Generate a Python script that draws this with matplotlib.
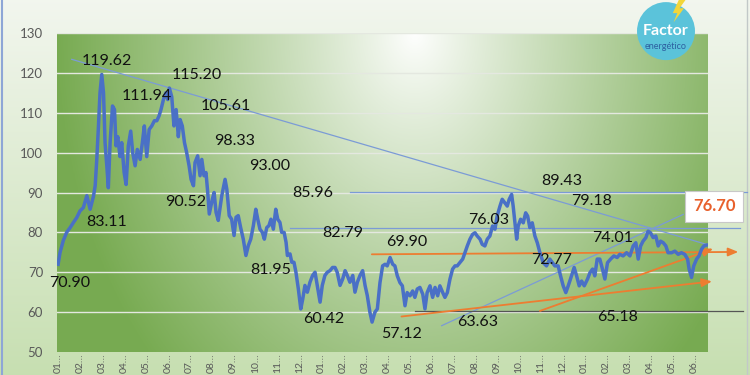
import numpy as np
import matplotlib.pyplot as plt
from matplotlib.patches import Ellipse, Polygon
from matplotlib.lines import Line2D

plt.rcParams['font.family'] = ['Lato', 'DejaVu Sans']

# price: position in months from the first tick, value
month_pos = [0.00, 0.09, 0.24, 0.39, 0.55, 0.70, 0.85, 1.00, 1.15, 1.31, 1.46, 1.61, 1.69, 1.76,
             1.84, 1.91, 1.99, 2.07, 2.14, 2.22, 2.29, 2.37, 2.48, 2.57, 2.64, 2.72, 2.82, 2.90,
             3.01, 3.10, 3.20, 3.31, 3.40, 3.51, 3.61, 3.74, 3.84, 3.93, 4.04, 4.15, 4.27, 4.39,
             4.50, 4.60, 4.69, 4.80, 4.91, 5.00, 5.07, 5.18, 5.28, 5.38, 5.48, 5.56, 5.66, 5.76,
             5.86, 5.97, 6.06, 6.17, 6.24, 6.36, 6.47, 6.55, 6.65, 6.74, 6.82, 6.89, 7.03, 7.11,
             7.20, 7.30, 7.46, 7.61, 7.69, 7.80, 7.91, 8.02, 8.11, 8.21, 8.32, 8.44, 8.56, 8.67,
             8.78, 8.90, 9.01, 9.10, 9.20, 9.31, 9.40, 9.51, 9.61, 9.70, 9.81, 9.92, 10.01, 10.11,
             10.19, 10.30, 10.39, 10.45, 10.57, 10.65, 10.75, 10.84, 10.95, 11.06, 11.15, 11.25,
             11.36, 11.48, 11.60, 11.71, 11.81, 11.94, 12.04, 12.16, 12.27, 12.39, 12.51, 12.62,
             12.72, 12.85, 12.97, 13.08, 13.18, 13.30, 13.43, 13.53, 13.64, 13.76, 13.88, 13.99,
             14.09, 14.21, 14.31, 14.44, 14.55, 14.67, 14.79, 14.90, 15.00, 15.13, 15.25, 15.35,
             15.46, 15.58, 15.69, 15.81, 15.91, 16.04, 16.16, 16.26, 16.37, 16.49, 16.62, 16.72,
             16.82, 16.95, 17.07, 17.18, 17.30, 17.40, 17.53, 17.63, 17.74, 17.86, 17.98, 18.09,
             18.19, 18.31, 18.44, 18.54, 18.65, 18.77, 18.89, 19.00, 19.10, 19.23, 19.33, 19.45,
             19.56, 19.68, 19.80, 19.91, 20.01, 20.14, 20.24, 20.36, 20.47, 20.56, 20.67, 20.74,
             20.82, 20.90, 20.97, 21.08, 21.20, 21.31, 21.40, 21.50, 21.61, 21.73, 21.84, 21.96,
             22.11, 22.26, 22.41, 22.64, 22.79, 22.90, 23.02, 23.14, 23.25, 23.40, 23.52, 23.63,
             23.75, 23.86, 23.98, 24.13, 24.24, 24.36, 24.46, 24.57, 24.69, 24.81, 24.92, 25.04,
             25.18, 25.33, 25.48, 25.60, 25.75, 25.91, 26.06, 26.21, 26.33, 26.44, 26.55, 26.66,
             26.79, 26.89, 27.00, 27.12, 27.24, 27.35, 27.46, 27.58, 27.70, 27.80, 27.96, 28.11,
             28.26, 28.41, 28.56, 28.69, 28.76, 28.87, 28.97, 29.10, 29.21, 29.33, 29.43, 29.55]
price = [72.0, 75.0, 78.0, 80.0, 81.2, 82.5, 83.7, 85.4, 86.2, 89.2, 85.8, 89.0, 91.7, 98.0,
         106.7, 115.0, 119.6, 115.0, 102.5, 96.7, 91.2, 102.5, 111.7, 110.8, 101.7, 104.0, 99.0, 102.5,
         95.0, 92.0, 101.7, 105.4, 100.0, 96.7, 100.8, 98.3, 102.5, 106.7, 99.0, 105.8, 106.7, 108.0,
         108.0, 109.2, 110.8, 113.3, 115.0, 113.3, 116.2, 114.0, 106.7, 110.8, 104.0, 108.3, 106.7, 102.5,
         100.0, 96.7, 93.3, 91.7, 97.5, 99.2, 94.2, 98.3, 94.2, 95.0, 90.0, 84.6, 88.3, 90.0,
         85.0, 83.0, 89.2, 93.3, 90.8, 84.2, 83.3, 79.2, 83.8, 84.2, 81.2, 78.3, 74.2, 76.7,
         78.3, 81.7, 85.8, 83.3, 80.8, 80.0, 78.3, 81.2, 81.7, 83.3, 80.8, 85.8, 83.3, 82.5,
         80.0, 80.0, 77.5, 74.2, 74.6, 72.5, 72.5, 70.0, 65.8, 60.8, 63.3, 66.7,
         65.0, 67.5, 69.2, 70.0, 66.7, 62.5, 66.7, 69.2, 70.0, 70.4, 71.2, 71.2,
         70.0, 66.7, 68.3, 70.4, 69.2, 67.5, 69.2, 65.0, 67.5, 69.2, 70.4, 66.7,
         64.2, 60.0, 57.5, 60.0, 60.8, 67.4, 71.6, 72.0, 71.6, 73.7, 72.0, 71.6,
         69.1, 67.4, 66.6, 61.6, 64.9, 64.1, 65.3, 63.7, 65.8, 66.2, 64.5, 60.8,
         64.9, 66.6, 63.7, 66.2, 64.1, 66.6, 64.9, 63.7, 64.9, 68.3, 70.8, 71.6,
         71.6, 72.4, 73.3, 74.9, 76.6, 78.3, 79.5, 79.9, 79.1, 78.3, 77.0, 76.6,
         78.3, 79.1, 81.6, 80.8, 84.1, 86.6, 88.3, 87.4, 86.6, 88.3, 89.5, 86.6,
         82.4, 78.3, 81.6, 83.3, 82.4, 84.9, 84.1, 81.2, 82.4, 79.1, 77.4, 74.9,
         72.4, 71.6, 73.3, 71.6, 71.6, 69.1, 66.6, 64.9, 66.6, 69.1, 71.2, 69.1,
         66.6, 67.8, 66.6, 68.3, 69.9, 70.8, 69.1, 73.3, 73.3, 70.8, 68.3, 72.4,
         73.3, 74.1, 73.7, 74.5, 74.1, 74.9, 74.1, 76.6, 77.4, 73.3, 76.6, 77.8,
         78.7, 80.3, 79.9, 78.7, 79.1, 76.6, 77.8, 77.4, 76.6, 74.9, 74.9, 75.3,
         74.5, 74.9, 74.5, 73.3, 70.8, 68.7, 71.6, 73.3, 74.1, 75.8, 76.6, 76.8]

tick_months = ['01', '02', '03', '04', '05', '06', '07', '08', '09', '10', '11', '12',
               '01', '02', '03', '04', '05', '06', '07', '08', '09', '10', '11', '12',
               '01', '02', '03', '04', '05', '06']

peak_labels = ['119.62', '115.20', '111.94', '105.61', '98.33', '93.00', '85.96', '82.79',
               '90.52', '83.11', '70.90', '81.95', '60.42', '57.12', '63.63', '69.90',
               '76.03', '72.77', '74.01', '65.18', '79.18', '89.43']
peak_pos = [(2.23, 123.0), (6.33, 119.4), (4.05, 114.1), (7.65, 111.75), (8.06, 103.0),
            (9.66, 96.6), (11.62, 90.0), (12.98, 79.9), (5.83, 87.5), (2.23, 82.5),
            (0.55, 67.4), (9.70, 70.5), (12.12, 58.25), (15.67, 54.4), (19.13, 57.6),
            (15.90, 77.5), (19.64, 83.0), (22.50, 73.0), (25.28, 78.5), (25.51, 58.75),
            (24.33, 87.9), (22.96, 93.0)]
last_price = '76.70'

# trend lines drawn on the chart (month, price) -> (month, price)
blue_trends = [((0.62, 123.4), (29.55, 77.0)),
               ((17.48, 56.6), (28.49, 84.5)),
               ((13.30, 90.1), (31.40, 90.1)),
               ((10.57, 81.2), (31.10, 81.2))]
orange_trends = [((14.30, 74.5), (31.00, 75.1)),
                 ((15.65, 58.9), (29.80, 67.7)),
                 ((21.96, 60.3), (29.85, 75.9))]
support = ((16.26, 60.2), (31.20, 60.2))

fig = plt.figure(figsize=(7.5, 3.75), dpi=100)

# figure background: pale at the top, light green at the bottom
bg = fig.add_axes([0, 0, 1, 1])
bg.set_zorder(0)
top_c = np.array([0.95, 0.965, 0.935])
bot_c = np.array([0.78, 0.875, 0.695])
s = np.linspace(0, 1, 200)[:, None]
bg_img = bot_c * (1 - s[..., None]) + top_c * s[..., None]
bg_img = np.repeat(bg_img, 4, axis=1)
bg.imshow(bg_img, origin='lower', extent=[0, 1, 0, 1], aspect='auto')
bg.set_xlim(0, 1)
bg.set_ylim(0, 1)
bg.axis('off')
bg.add_line(Line2D([0.003, 0.003], [0, 1], color='#8ea6d6', lw=1.5))
bg.add_line(Line2D([0.996, 0.996], [0, 1], color='#c2c8c8', lw=1))

ax = fig.add_axes([0.076, 0.0613, 0.868, 0.8507])
ax.set_zorder(1)
ax.patch.set_visible(False)
x0, x1 = -0.05, 29.62
ax.set_xlim(x0, x1)
ax.set_ylim(50, 130)

# plot area gradient: white near the top centre, green toward the corners
nx, ny = 400, 200
X, Y = np.meshgrid(np.linspace(0, 1, nx), np.linspace(0, 1, ny))
d = np.clip(np.sqrt(((X - 0.55) / 0.55) ** 2 + ((Y - 1.0) / 1.5) ** 2), 0, 1) ** 0.9
white = np.array([1.0, 1.0, 1.0])
green = np.array([0.47, 0.67, 0.32])
img = white * (1 - d[..., None]) + green * d[..., None]
ax.imshow(img, origin='lower', extent=[x0, x1, 50, 130], aspect='auto', zorder=0)

for v in range(60, 131, 10):
    ax.axhline(v, color='#e4e8e0', lw=1, zorder=1)

for spine in ax.spines.values():
    spine.set_visible(False)

ax.set_yticks(range(50, 131, 10))
ax.tick_params(axis='y', length=0, pad=10, labelsize=9.5, labelcolor='#595959')
ax.set_xticks(range(len(tick_months)))
ax.set_xticklabels([m + '…' for m in tick_months], rotation=90)
ax.tick_params(axis='x', length=0, pad=1, labelsize=7.5, labelcolor='#595959')

# trend lines
for (a, b) in blue_trends:
    ax.plot([a[0], b[0]], [a[1], b[1]], color='#7b9bd6', lw=0.9, zorder=3, clip_on=False)
ax.plot([support[0][0], support[1][0]], [support[0][1], support[1][1]],
        color='#555555', lw=0.9, zorder=3, clip_on=False)
for (a, b) in orange_trends:
    ax.annotate('', xy=b, xytext=a, annotation_clip=False, zorder=4,
                arrowprops=dict(arrowstyle='-|>,head_length=0.6,head_width=0.25',
                                color='#ed7d31', lw=1.3, shrinkA=0, shrinkB=0))

ax.plot(month_pos, price, color='#4a70c6', lw=2.5, zorder=5, solid_joinstyle='round')

for txt, (px, py) in zip(peak_labels, peak_pos):
    ax.text(px, py, txt, ha='center', va='center', fontsize=11.5, color='#111111', zorder=6)

ax.text(29.9, 86.5, last_price, ha='center', va='center', fontsize=12, color='#e8602c',
        fontweight='bold', zorder=7, clip_on=False,
        bbox=dict(boxstyle='square,pad=0.45', facecolor='white', edgecolor='#c8c8c8', lw=0.8))

# logo
fig.patches.append(Ellipse((0.888, 0.917), 0.0773, 0.1547, transform=fig.transFigure,
                           facecolor='#5bc3da', edgecolor='none', zorder=10))
fig.patches.append(Polygon([(0.905, 1.0), (0.897, 0.965), (0.903, 0.965), (0.898, 0.94),
                            (0.912, 0.978), (0.906, 0.978), (0.914, 1.0)],
                           closed=True, transform=fig.transFigure,
                           facecolor='#f2d63a', edgecolor='none', zorder=11))
fig.text(0.887, 0.918, 'Factor', ha='center', va='center', fontsize=11.5, fontweight='bold',
         color='white', zorder=12)
fig.text(0.887, 0.875, 'energético', ha='center', va='center', fontsize=6.5,
         color='#2d5fa0', zorder=12)

fig.savefig('out.png', dpi=100)
